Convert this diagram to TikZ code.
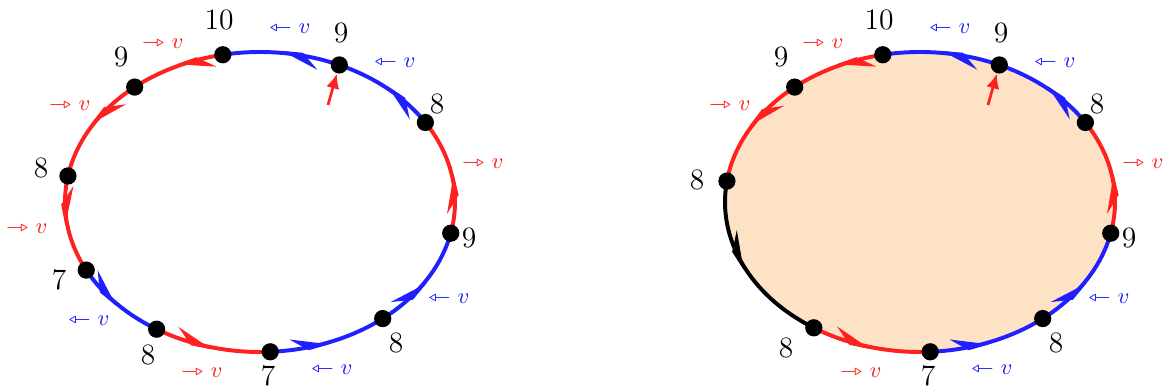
\documentclass[tikz,border=0pt]{standalone}
\usepackage{amssymb}
\usepackage{stmaryrd}
\usepackage{tikz}
\usetikzlibrary{calc,arrows.meta,decorations.markings}
\definecolor{ciclored}{HTML}{FF2020}
\definecolor{cicloblue}{HTML}{2020FF}
\definecolor{cicloface}{HTML}{FDE2C6}
\tikzset{
  vert/.style={circle,fill=black,inner sep=0pt,minimum size=7pt},
  num/.style={font=\large,text=black,inner sep=0pt},
  velr/.style={font=\small,text=ciclored,inner sep=0pt},
  velb/.style={font=\small,text=cicloblue,inner sep=0pt},
  meio/.style={postaction={decorate},decoration={markings,
    mark=at position 0.5 with {\arrow[#1]{Stealth[harpoon,length=13pt,width=11pt,inset=5.5pt]}}}},
  arcr/.style={draw=ciclored,line width=1.6pt,meio=ciclored},
  arcb/.style={draw=cicloblue,line width=1.6pt,meio=cicloblue},
  arcp/.style={draw=black,line width=1.6pt,meio=black},
  aponta/.style={draw=ciclored,line width=1.1pt,-{Latex[length=6pt,width=5.5pt]}},
}

\begin{document}
\begin{tikzpicture}[x=0.406pt,y=0.406pt]
  \useasboundingbox (0,0) rectangle (1163,388);
  % --- ciclo da esquerda
  \coordinate (oa) at (260,186);
  \coordinate (a1) at ($(oa)+(101:195 and 150)$);
  \coordinate (a2) at ($(oa)+(130:195 and 150)$);
  \coordinate (a3) at ($(oa)+(170:195 and 150)$);
  \coordinate (a4) at ($(oa)+(207:195 and 150)$);
  \coordinate (a5) at ($(oa)+(238:195 and 150)$);
  \coordinate (a6) at ($(oa)+(273:195 and 150)$);
  \coordinate (a7) at ($(oa)+(309:195 and 150)$);
  \coordinate (a8) at ($(oa)+(348:195 and 150)$);
  \coordinate (a9) at ($(oa)+(32:195 and 150)$);
  \coordinate (a10) at ($(oa)+(66:195 and 150)$);
  \draw[arcr] (a1) arc[start angle=101,end angle=130,x radius=195,y radius=150];
  \draw[arcr] (a2) arc[start angle=130,end angle=170,x radius=195,y radius=150];
  \draw[arcr] (a3) arc[start angle=170,end angle=207,x radius=195,y radius=150];
  \draw[arcb] (a4) arc[start angle=207,end angle=238,x radius=195,y radius=150];
  \draw[arcr] (a5) arc[start angle=238,end angle=273,x radius=195,y radius=150];
  \draw[arcb] (a6) arc[start angle=273,end angle=309,x radius=195,y radius=150];
  \draw[arcb] (a7) arc[start angle=309,end angle=348,x radius=195,y radius=150];
  \draw[arcr] (a8) arc[start angle=348,end angle=392,x radius=195,y radius=150];
  \draw[arcb] (a9) arc[start angle=32,end angle=66,x radius=195,y radius=150];
  \draw[arcb] (a10) arc[start angle=66,end angle=101,x radius=195,y radius=150];
  \foreach \i in {1,...,10} {\node[vert] (a\i d) at (a\i) {};}
  \coordinate (pa) at (328,283);
  \draw[aponta] (pa) -- (a10d);
  \node[num] (na1) at (219,368) {10};
  \node[num] (na2) at (121,331) {9};
  \node[num] (na3) at (41,220) {8};
  \node[num] (na4) at (59,108) {7};
  \node[num] (na5) at (148,33) {8};
  \node[num] (na6) at (268,12) {7};
  \node[num] (na7) at (396,45) {8};
  \node[num] (na8) at (469,150) {9};
  \node[num] (na9) at (437,284) {8};
  \node[num] (na10) at (341,355) {9};
  \node[velr] (va1) at (163,345) {$\rightarrowtriangle v$};
  \node[velr] (va2) at (70,283) {$\rightarrowtriangle v$};
  \node[velr] (va3) at (27,160) {$\rightarrowtriangle v$};
  \node[velb] (va4) at (89,68) {$\leftarrowtriangle v$};
  \node[velr] (va5) at (202,16) {$\rightarrowtriangle v$};
  \node[velb] (va6) at (332,19) {$\leftarrowtriangle v$};
  \node[velb] (va7) at (449,90) {$\leftarrowtriangle v$};
  \node[velr] (va8) at (483,225) {$\rightarrowtriangle v$};
  \node[velb] (va9) at (395,326) {$\leftarrowtriangle v$};
  \node[velb] (va10) at (290,360) {$\leftarrowtriangle v$};
  % --- ciclo da direita (preenchido)
  \coordinate (ob) at (920,186);
  \fill[cicloface] (ob) ellipse[x radius=195,y radius=150];
  \coordinate (b1) at ($(ob)+(101:195 and 150)$);
  \coordinate (b2) at ($(ob)+(130:195 and 150)$);
  \coordinate (b3) at ($(ob)+(172:195 and 150)$);
  \coordinate (b4) at ($(ob)+(237:195 and 150)$);
  \coordinate (b5) at ($(ob)+(273:195 and 150)$);
  \coordinate (b6) at ($(ob)+(309:195 and 150)$);
  \coordinate (b7) at ($(ob)+(348:195 and 150)$);
  \coordinate (b8) at ($(ob)+(32:195 and 150)$);
  \coordinate (b9) at ($(ob)+(66:195 and 150)$);
  \draw[arcr] (b1) arc[start angle=101,end angle=130,x radius=195,y radius=150];
  \draw[arcr] (b2) arc[start angle=130,end angle=172,x radius=195,y radius=150];
  \draw[arcp] (b3) arc[start angle=172,end angle=237,x radius=195,y radius=150];
  \draw[arcr] (b4) arc[start angle=237,end angle=273,x radius=195,y radius=150];
  \draw[arcb] (b5) arc[start angle=273,end angle=309,x radius=195,y radius=150];
  \draw[arcb] (b6) arc[start angle=309,end angle=348,x radius=195,y radius=150];
  \draw[arcr] (b7) arc[start angle=348,end angle=392,x radius=195,y radius=150];
  \draw[arcb] (b8) arc[start angle=32,end angle=66,x radius=195,y radius=150];
  \draw[arcb] (b9) arc[start angle=66,end angle=101,x radius=195,y radius=150];
  \foreach \i in {1,...,9} {\node[vert] (b\i d) at (b\i) {};}
  \coordinate (pb) at (988,283);
  \draw[aponta] (pb) -- (b9d);
  \node[num] (nb1) at (879,368) {10};
  \node[num] (nb2) at (781,331) {9};
  \node[num] (nb3) at (697,208) {8};
  \node[num] (nb4) at (786,40) {8};
  \node[num] (nb5) at (928,12) {7};
  \node[num] (nb6) at (1056,45) {8};
  \node[num] (nb7) at (1129,150) {9};
  \node[num] (nb8) at (1097,284) {8};
  \node[num] (nb9) at (1001,355) {9};
  \node[velr] (vb1) at (823,345) {$\rightarrowtriangle v$};
  \node[velr] (vb2) at (730,283) {$\rightarrowtriangle v$};
  \node[velr] (vb4) at (861,16) {$\rightarrowtriangle v$};
  \node[velb] (vb5) at (992,19) {$\leftarrowtriangle v$};
  \node[velb] (vb6) at (1109,90) {$\leftarrowtriangle v$};
  \node[velr] (vb7) at (1143,225) {$\rightarrowtriangle v$};
  \node[velb] (vb8) at (1055,326) {$\leftarrowtriangle v$};
  \node[velb] (vb9) at (950,360) {$\leftarrowtriangle v$};
\end{tikzpicture}
\end{document}
